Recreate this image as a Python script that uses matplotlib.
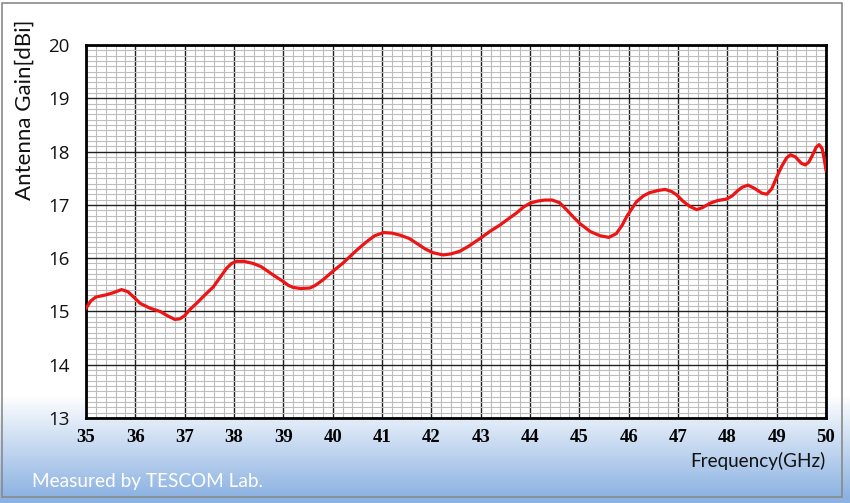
import numpy as np
import matplotlib.pyplot as plt
from matplotlib.patches import Rectangle

# frequency (GHz) and gain (dBi)
freq = [35.0, 35.1, 35.2, 35.4, 35.55, 35.72, 35.85, 36.0, 36.1, 36.3, 36.5, 36.65,
        36.8, 36.9, 37.0, 37.1, 37.25, 37.4, 37.58, 37.75, 37.85, 37.95, 38.05, 38.2,
        38.39, 38.55, 38.66, 38.8, 39.0, 39.1, 39.2, 39.35, 39.54, 39.65, 39.8, 40.0,
        40.2, 40.35, 40.5, 40.69, 40.85, 41.03, 41.2, 41.37, 41.55, 41.7, 41.88, 42.04,
        42.24, 42.4, 42.58, 42.75, 42.99, 43.2, 43.39, 43.55, 43.73, 43.87, 44.0, 44.15,
        44.3, 44.45, 44.6, 44.74, 44.87, 45.01, 45.22, 45.42, 45.6, 45.75, 45.87, 45.96,
        46.08, 46.16, 46.3, 46.43, 46.6, 46.74, 46.87, 46.97, 47.1, 47.24, 47.38, 47.5,
        47.65, 47.8, 47.99, 48.1, 48.19, 48.3, 48.42, 48.55, 48.7, 48.8, 48.9, 49.0,
        49.1, 49.2, 49.28, 49.38, 49.5, 49.58, 49.65, 49.72, 49.8, 49.86, 49.92, 49.96,
        50.0]
gain = [15.06, 15.20, 15.27, 15.31, 15.35, 15.41, 15.37, 15.24, 15.15, 15.06, 15.00, 14.92,
        14.85, 14.86, 14.92, 15.03, 15.16, 15.30, 15.46, 15.68, 15.81, 15.90, 15.94, 15.94,
        15.90, 15.84, 15.77, 15.68, 15.56, 15.49, 15.45, 15.43, 15.44, 15.49, 15.59, 15.75,
        15.90, 16.03, 16.16, 16.31, 16.42, 16.48, 16.47, 16.43, 16.37, 16.28, 16.17, 16.10,
        16.06, 16.08, 16.13, 16.22, 16.37, 16.51, 16.62, 16.73, 16.85, 16.96, 17.03, 17.07,
        17.09, 17.09, 17.04, 16.91, 16.78, 16.65, 16.50, 16.42, 16.39, 16.46, 16.62, 16.78,
        16.95, 17.06, 17.17, 17.23, 17.27, 17.29, 17.25, 17.19, 17.07, 16.97, 16.91, 16.95,
        17.03, 17.08, 17.11, 17.17, 17.25, 17.33, 17.37, 17.31, 17.22, 17.20, 17.30, 17.52,
        17.72, 17.88, 17.94, 17.90, 17.78, 17.75, 17.80, 17.92, 18.08, 18.13, 18.06, 17.88,
        17.65]

x_ticks = list(range(35, 51))
y_ticks = list(range(13, 21))

fig = plt.figure(figsize=(8.5, 5.03), dpi=100)

# background: white fading to light blue at the bottom
bg = fig.add_axes([0, 0, 1, 1], zorder=-5)
bg.set_axis_off()
rows = 503
t = np.clip((np.arange(rows) - 395) / (497 - 395), 0, 1)[:, None]
top = np.array([1.0, 1.0, 1.0])
bot = np.array([0x8c, 0xb2, 0xe2]) / 255
grad = (1 - t)[..., None] * top + t[..., None] * bot
grad = np.repeat(grad, 2, axis=1)
bg.imshow(grad, aspect='auto', extent=[0, 850, 503, 0])
bg.set_xlim(0, 850)
bg.set_ylim(503, 0)
bg.add_patch(Rectangle((2, 3), 840, 494, fill=False, edgecolor='#8a8a8a', lw=1.2))

ax = fig.add_axes([86 / 850, 1 - 418 / 503, 740 / 850, 373 / 503])
ax.plot(freq, gain, color='#ec1414', lw=2.3, zorder=5)

ax.set_xlim(35, 50)
ax.set_ylim(13, 20)
ax.set_xticks(x_ticks)
ax.set_yticks(y_ticks)
ax.set_xticks(np.arange(35, 50.01, 0.2), minor=True)
ax.set_yticks(np.arange(13, 20.01, 0.1), minor=True)
ax.grid(which='minor', color='#bdbdbd', lw=0.8, linestyle='-')
ax.grid(which='major', color='#202020', lw=1.0, linestyle='-')
ax.tick_params(which='both', length=0)
ax.set_axisbelow(True)
for s in ax.spines.values():
    s.set_linewidth(2)
    s.set_color('black')

ax.set_xticklabels([str(v) for v in x_ticks], fontfamily='Liberation Serif',
                   fontweight='bold', fontsize=13.5)
ax.set_yticklabels([str(v) for v in y_ticks], fontfamily='Open Sans', fontsize=13.5,
                   color='#111111')
ax.tick_params(axis='x', pad=8)
ax.tick_params(axis='y', pad=12)

fig.text(25 / 850, 1 - 110 / 503, 'Antenna Gain[dBi]', rotation=90, ha='center',
         va='center', fontfamily='Lato', fontsize=16, color='#111111')
fig.text(826 / 850, 1 - 461 / 503, 'Frequency(GHz)', ha='right', va='center',
         fontfamily='Lato', fontsize=13.6, color='#111111')
fig.text(32 / 850, 1 - 481 / 503, 'Measured by TESCOM Lab.', ha='left', va='center',
         fontfamily='Lato', fontsize=13.7, color='white')

fig.savefig('out.png', dpi=100)
